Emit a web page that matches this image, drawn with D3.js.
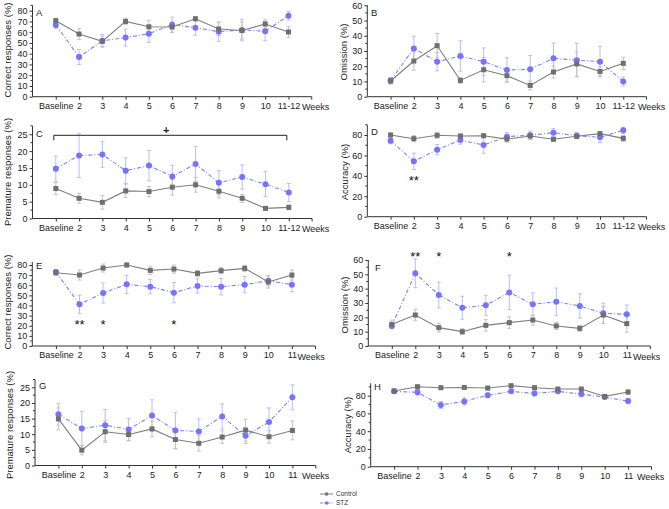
<!DOCTYPE html>
<html><head><meta charset="utf-8">
<script src="https://cdn.jsdelivr.net/npm/d3@7"></script>
<style>
body{margin:0;background:#fff;}
svg{display:block;font-family:"Liberation Sans",Arial,sans-serif;}
</style></head>
<body><svg id="c" width="669" height="509"></svg>
<script>
// ---------- DATA ----------
const weeksAD = ["Baseline","2","3","4","5","6","7","8","9","10","11-12"];
const weeksEH = ["Baseline","2","3","4","5","6","7","8","9","10","11"];

const aControl    = [70.7,58.3,51.5,70.0,65.0,64.8,72.5,63.0,61.6,67.6,60.2];
const aControlErr = [2,5,5,3,6,5,2,6,8,4,5];
const aStz        = [66.7,36.9,52.0,55.0,58.6,67.0,64.2,60.5,62.0,61.0,75.3];
const aStzErr     = [3,7,6,8,8,7,7,9,10,9,4];

const bControl    = [10.3,23.4,33.5,10.7,17.7,13.8,7.4,16.2,21.5,16.6,21.9];
const bControlErr = [2,6,8,2,8,4,3,4,8,3,4];
const bStz        = [10.6,31.7,23.0,26.7,23.0,17.5,18.0,25.2,24.0,23.0,10.0];
const bStzErr     = [2,8,6,10,9,8,9,10,11,10,3];

const cControl    = [8.9,6.0,4.8,8.2,8.0,9.3,10.0,8.1,6.0,3.0,3.3];
const cControlErr = [1.8,1.5,2,2,1.5,2.3,2.2,2,1.2,0.5,0.7];
const cStz        = [14.8,18.7,19.0,14.2,15.7,12.5,16.2,10.6,12.3,10.2,7.7];
const cStzErr     = [3.7,6.5,3.8,3.8,4.5,3.3,5.2,3.6,3.6,3.7,2.7];

const dControl    = [80.0,76.4,79.7,79.0,79.3,76.0,79.0,75.8,78.7,81.3,76.7];
const dControlErr = [2,3,3,2,2,3,3,2,2,2,3];
const dStz        = [74.4,54.2,65.6,75.0,70.2,78.4,79.7,82.3,79.3,77.7,84.6];
const dStzErr     = [3,8,5,4,8,4,4,4,3,5,3];

const eControl    = [72.4,70.1,77.0,80.0,74.7,76.0,71.7,74.4,76.7,63.2,70.1];
const eControlErr = [3,5,4,2,4,4,3,3,3,6,5];
const eStz        = [73.0,41.2,52.3,60.9,58.6,52.7,59.3,58.6,60.6,64.5,60.6];
const eStzErr     = [2,9,10,9,7,10,7,8,8,5,7];

const fControl    = [15.1,21.6,12.8,10.0,14.4,16.3,18.1,14.0,12.3,21.6,15.6];
const fControlErr = [3,4,3,2,4,4,3.5,2.5,2,6,6];
const fStz        = [14.0,50.7,35.6,26.7,28.4,37.4,29.1,30.9,27.9,22.8,22.1];
const fStzErr     = [2,10,9,8,7,12,8,9.5,8.5,7,6.5];

const gControl    = [14.9,4.9,10.8,9.9,11.7,8.3,7.1,9.1,11.3,9.2,11.2];
const gControlErr = [3.5,1.5,3.5,2,2.5,3,2.5,2,3.5,2,3];
const gStz        = [16.4,11.8,12.9,11.5,16.0,11.2,10.9,15.7,9.5,13.9,21.8];
const gStzErr     = [3.5,5.5,5,3.5,5,5.8,4,4,2.5,4.5,4];

const hControl    = [85.3,90.1,89.0,89.3,88.6,91.3,89.0,87.5,87.5,79.2,84.1];
const hControlErr = [2,2,2,1.5,2,1.5,2,2,2,2,2.5];
const hStz        = [84.9,83.8,69.5,73.6,80.4,84.9,82.6,84.9,81.8,78.4,73.9];
const hStzErr     = [2,3,4,4,2.5,2,2.5,2,3,2.5,3];

const ticks80by10 = [0,10,20,30,40,50,60,70,80];
const ticks60by10 = [0,10,20,30,40,50,60];
const ticks25by5  = [0,5,10,15,20,25];
const ticks80by20 = [0,20,40,60,80];

const seriesNames = ["Control","STZ"];
// significance: [category, label]
const dSig = [["2","**"]];
const eSig = [["2","**"],["3","*"],["6","*"]];
const fSig = [["2","**"],["3","*"],["6","*"]];

// ---------- STYLE ----------
const ctrlLine = "#7f7f7f", ctrlMark = "#6f6f6f", ctrlErrC = "#c4c4c4";
const stzLine = "#7f7fff", stzMark = "#7474ff", stzErrC = "#bcbcff";
const axisC = "#333";

const svg = d3.select("#c");

function drawPanel(o){
  const g = svg.append("g");
  const x = d3.scalePoint().domain(o.cats).range([o.ax, o.ax + 12*o.step]).padding(1);
  const y = d3.scaleLinear().domain([0, o.yTopVal]).range([o.y0, o.yTopPx]);

  // y axis
  const ya = g.append("g").attr("transform",`translate(${o.ax},0)`)
    .call(d3.axisLeft(y).tickValues(o.ticks).tickSize(3).tickPadding(2).tickSizeOuter(0));
  ya.select(".domain").remove();
  ya.selectAll("line").attr("stroke",axisC);
  ya.selectAll("text").attr("font-size",9).attr("fill","#222").attr("font-family","Liberation Sans, Arial, sans-serif");
  // minor ticks
  const stepT = o.ticks[1]-o.ticks[0];
  const minors = o.ticks.slice(0,-1).map(t=>t+stepT/2).concat(o.ticks[o.ticks.length-1]+stepT/2 <= o.axisTopVal ? [o.ticks[o.ticks.length-1]+stepT/2] : []);
  g.selectAll(null).data(minors).enter().append("line")
    .attr("x1",o.ax-2).attr("x2",o.ax).attr("y1",d=>y(d)).attr("y2",d=>y(d)).attr("stroke",axisC);
  g.append("line").attr("x1",o.ax).attr("x2",o.ax).attr("y1",y(0)).attr("y2",y(o.axisTopVal))
    .attr("stroke",axisC);

  // x axis
  const xa = g.append("g").attr("transform",`translate(0,${o.y0})`)
    .call(d3.axisBottom(x).tickSize(3).tickPadding(3).tickSizeOuter(0));
  xa.select(".domain").remove();
  xa.selectAll("line").attr("stroke",axisC);
  xa.selectAll("text").attr("font-size",9).attr("fill","#222").attr("font-family","Liberation Sans, Arial, sans-serif");
  g.append("line").attr("x1",o.ax).attr("x2",o.ax+12*o.step).attr("y1",o.y0).attr("y2",o.y0).attr("stroke",axisC);
  g.append("line").attr("x1",o.ax+12*o.step).attr("x2",o.ax+12*o.step).attr("y1",o.y0).attr("y2",o.y0+3).attr("stroke",axisC);
  g.append("text").attr("x",o.weeksX).attr("y",o.y0+13.5).attr("font-size",9).attr("fill","#222").text("Weeks");

  // titles
  g.append("text").attr("transform",`translate(${o.tx},${o.ty}) rotate(-90)`)
    .attr("text-anchor","middle").attr("font-size",9.5).attr("fill","#222").text(o.title);
  g.append("text").attr("x",o.lx).attr("y",o.ly).attr("font-size",9.5).attr("fill","#222").text(o.letter);

  const series = [
    {v:o.stz, e:o.stzErr, line:stzLine, mark:stzMark, err:stzErrC, dash:"4,2,1,2", shape:"circle"},
    {v:o.ctrl, e:o.ctrlErr, line:ctrlLine, mark:ctrlMark, err:ctrlErrC, dash:null, shape:"square"}
  ];
  // error bars first
  series.forEach(s=>{
    const eg = g.append("g");
    s.v.forEach((v,i)=>{
      const cx = x(o.cats[i]);
      eg.append("line").attr("x1",cx).attr("x2",cx).attr("y1",y(v-s.e[i])).attr("y2",y(v+s.e[i])).attr("stroke",s.err).attr("stroke-width",1);
      [v-s.e[i], v+s.e[i]].forEach(w=>eg.append("line").attr("x1",cx-2).attr("x2",cx+2).attr("y1",y(w)).attr("y2",y(w)).attr("stroke",s.err));
    });
  });
  series.forEach(s=>{
    const line = d3.line().x((d,i)=>x(o.cats[i])).y(d=>y(d));
    const p = g.append("path").datum(s.v).attr("d",line).attr("fill","none").attr("stroke",s.line).attr("stroke-width",1.1);
    if(s.dash) p.attr("stroke-dasharray",s.dash);
    s.v.forEach((v,i)=>{
      const cx = x(o.cats[i]), cy = y(v);
      if(s.shape==="circle") g.append("circle").attr("cx",cx).attr("cy",cy).attr("r",3).attr("fill",s.mark);
      else g.append("rect").attr("x",cx-2.5).attr("y",cy-2.5).attr("width",5).attr("height",5).attr("fill",s.mark);
    });
  });
  if(o.sig){
    o.sig.forEach(([c,t])=>{
      g.append("text").attr("x",x(c)).attr("y",y(o.sigVal)+7).attr("text-anchor","middle")
        .attr("font-size",13).attr("fill","#111").text(t);
    });
  }
  return {g,x,y};
}

drawPanel({cats:weeksAD, ax:32.5, step:23.27, y0:96.7, yTopVal:80, yTopPx:10.7, axisTopVal:85, ticks:ticks80by10,
  ctrl:aControl, ctrlErr:aControlErr, stz:aStz, stzErr:aStzErr,
  title:"Correct responses (%)", tx:11, ty:50, letter:"A", lx:33+3, ly:16, weeksX:302});
drawPanel({cats:weeksAD, ax:367.3, step:23.27, y0:96.7, yTopVal:60, yTopPx:5.3, axisTopVal:60, ticks:ticks60by10,
  ctrl:bControl, ctrlErr:bControlErr, stz:bStz, stzErr:bStzErr,
  title:"Omission (%)", tx:347, ty:52, letter:"B", lx:371, ly:16, weeksX:638});
const pc = drawPanel({cats:weeksAD, ax:32.5, step:23.3, y0:218.5, yTopVal:25, yTopPx:134.3, axisTopVal:27.5, ticks:ticks25by5,
  ctrl:cControl, ctrlErr:cControlErr, stz:cStz, stzErr:cStzErr,
  title:"Premature responses (%)", tx:11, ty:172, letter:"C", lx:36, ly:137, weeksX:302});
// bracket in C
{
  const x0 = pc.x(weeksAD[0])-2, x1 = pc.x(weeksAD[10])-2, yb = pc.y(25)+1;
  pc.g.append("path").attr("d",`M${x0},${yb+5}V${yb}H${x1}V${yb+5}`).attr("fill","none").attr("stroke","#222");
  pc.g.append("text").attr("x",(x0+x1)/2-4).attr("y",yb-1.5).attr("text-anchor","middle").attr("font-size",11).attr("font-weight","bold").attr("fill","#222").text("+");
}
drawPanel({cats:weeksAD, ax:367.3, step:23.27, y0:216.7, yTopVal:80, yTopPx:135, axisTopVal:90, ticks:ticks80by20,
  ctrl:dControl, ctrlErr:dControlErr, stz:dStz, stzErr:dStzErr,
  title:"Accuracy (%)", tx:348, ty:172, letter:"D", lx:371, ly:135, weeksX:638,
  sig:dSig, sigVal:38});
drawPanel({cats:weeksEH, ax:32.3, step:23.6, y0:346, yTopVal:80, yTopPx:265, axisTopVal:83, ticks:ticks80by10,
  ctrl:eControl, ctrlErr:eControlErr, stz:eStz, stzErr:eStzErr,
  title:"Correct responses (%)", tx:11, ty:302, letter:"E", lx:36, ly:269, weeksX:297.5,
  sig:eSig, sigVal:24});
drawPanel({cats:weeksEH, ax:368.3, step:23.5, y0:346, yTopVal:60, yTopPx:260, axisTopVal:60, ticks:ticks60by10,
  ctrl:fControl, ctrlErr:fControlErr, stz:fStz, stzErr:fStzErr,
  title:"Omission (%)", tx:348, ty:305, letter:"F", lx:375, ly:271, weeksX:633,
  sig:fSig, sigVal:64});
drawPanel({cats:weeksEH, ax:35, step:23.4, y0:465.5, yTopVal:25, yTopPx:387.3, axisTopVal:27.5, ticks:ticks25by5,
  ctrl:gControl, ctrlErr:gControlErr, stz:gStz, stzErr:gStzErr,
  title:"Premature responses (%)", tx:13, ty:425, letter:"G", lx:39, ly:389, weeksX:302});
drawPanel({cats:weeksEH, ax:370.7, step:23.4, y0:466.7, yTopVal:80, yTopPx:395.7, axisTopVal:94, ticks:ticks80by20,
  ctrl:hControl, ctrlErr:hControlErr, stz:hStz, stzErr:hStzErr,
  title:"Accuracy (%)", tx:351, ty:425, letter:"H", lx:374, ly:390, weeksX:637});

// legend
const leg = svg.append("g");
seriesNames.forEach((n,i)=>{
  const yy = 494 + i*9;
  const isC = i===0;
  const l = leg.append("line").attr("x1",320).attr("x2",333).attr("y1",yy).attr("y2",yy)
    .attr("stroke",isC?ctrlLine:stzLine).attr("stroke-width",1);
  if(!isC) l.attr("stroke-dasharray","3,1.5,1,1.5");
  if(isC) leg.append("rect").attr("x",325).attr("y",yy-1.5).attr("width",3).attr("height",3).attr("fill",ctrlMark);
  else leg.append("circle").attr("cx",326.5).attr("cy",yy).attr("r",1.8).attr("fill",stzMark);
  leg.append("text").attr("x",336).attr("y",yy+2.3).attr("font-size",6.5).attr("fill","#333").text(n);
});
</script></body></html>
